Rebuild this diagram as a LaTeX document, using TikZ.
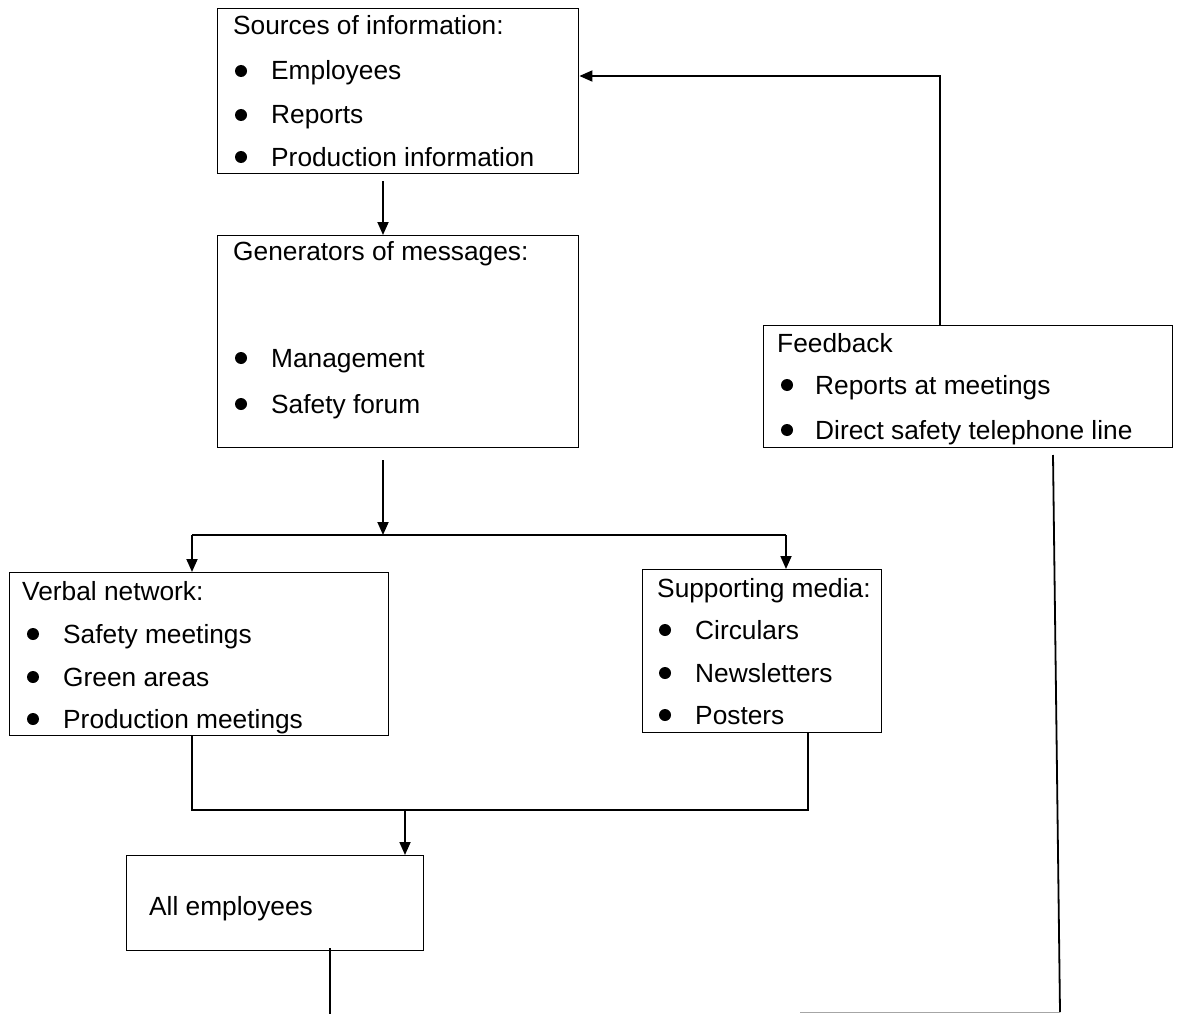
\documentclass[tikz,border=0pt]{standalone}
\usepackage{fontspec}
\setmainfont{Liberation Sans}
\usetikzlibrary{arrows.meta}
\begin{document}
\begin{tikzpicture}[x=1pt,y=-1pt,
  box/.style={draw, line width=1.4pt, anchor=north west, inner sep=0pt},
  txt/.style={anchor=base west, inner sep=0pt, font=\fontsize{26.3}{30}\selectfont},
  conn/.style={line width=1.8pt},
  arr/.style={line width=1.8pt, -{Triangle[length=13pt,width=11pt]}},
  dot/.style={circle, fill=black, inner sep=0pt, minimum size=12pt}]
\useasboundingbox (0,0) rectangle (1183,1014);
% boxes
\node[box, minimum width=361pt, minimum height=165pt] (b1) at (217,8) {};
\node[box, minimum width=361pt, minimum height=212pt] (b2) at (217,235) {};
\node[box, minimum width=409pt, minimum height=122pt] (b6) at (763,325) {};
\node[box, minimum width=379pt, minimum height=163pt] (b3) at (9,572) {};
\node[box, minimum width=239pt, minimum height=163pt] (b4) at (642,569) {};
\node[box, minimum width=297pt, minimum height=95pt] (b5) at (126,855) {};
% texts box 1
\node[txt] (t11) at (233,35) {Sources of information:};
\node[dot] (d12) at (241,71) {}; \node[txt] (t12) at (271,80) {Employees};
\node[dot] (d13) at (241,115) {}; \node[txt] (t13) at (271,124) {Reports};
\node[dot] (d14) at (241,157) {}; \node[txt] (t14) at (271,166) {Production information};
% box 2
\node[txt] (t21) at (233,260) {Generators of messages:};
\node[dot] (d22) at (241,358) {}; \node[txt] (t22) at (271,367) {Management};
\node[dot] (d23) at (241,404) {}; \node[txt] (t23) at (271,413) {Safety forum};
% box 6
\node[txt] (t61) at (777,352) {Feedback};
\node[dot] (d62) at (787,385) {}; \node[txt] (t62) at (815,394) {Reports at meetings};
\node[dot] (d63) at (787,430) {}; \node[txt] (t63) at (815,439) {Direct safety telephone line};
% box 3
\node[txt] (t31) at (22,600) {Verbal network:};
\node[dot] (d32) at (33,634) {}; \node[txt] (t32) at (63,643) {Safety meetings};
\node[dot] (d33) at (33,677) {}; \node[txt] (t33) at (63,686) {Green areas};
\node[dot] (d34) at (33,719) {}; \node[txt] (t34) at (63,728) {Production meetings};
% box 4
\node[txt] (t41) at (657,597) {Supporting media:};
\node[dot] (d42) at (665,630) {}; \node[txt] (t42) at (695,639) {Circulars};
\node[dot] (d43) at (665,673) {}; \node[txt] (t43) at (695,682) {Newsletters};
\node[dot] (d44) at (665,715) {}; \node[txt] (t44) at (695,724) {Posters};
% box 5
\node[txt] (t51) at (149,915) {All employees};
% connector coordinates
\coordinate (c1) at (383,181);
\coordinate (c2) at (383,460);
\coordinate (c3) at (383,535);
\coordinate (c3l) at (192,535);
\coordinate (c3r) at (786,535);
\coordinate (c4l) at (192,810);
\coordinate (c4r) at (808,810);
\coordinate (c5) at (405,810);
\coordinate (c6) at (940,76);
\coordinate (c7) at (1053,455);
\coordinate (c7b) at (1060,1012);
\coordinate (c8) at (330,948);
\coordinate (c8b) at (330,1014);
\coordinate (c9) at (800,1012);
% connectors
\draw[arr] (c1) -- (c1 |- b2.north);
\draw[arr] (c2) -- (c3);
\draw[conn] (c3l) -- (c3r);
\draw[arr] (c3l) -- (c3l |- b3.north);
\draw[arr] (c3r) -- (c3r |- b4.north);
\draw[conn] (c4l |- b3.south) -- (c4l) -- (c4r) -- (c4r |- b4.south);
\draw[arr] (c5) -- (c5 |- b5.north);
\draw[arr] (c6 |- b6.north) -- (c6) -- (c6 -| b1.east);
\draw[conn] (c7) -- (c7b);
\draw[conn] (c8) -- (c8b);
\draw[line width=1pt, black!35] (c9) -- (c7b);
\end{tikzpicture}
\end{document}
